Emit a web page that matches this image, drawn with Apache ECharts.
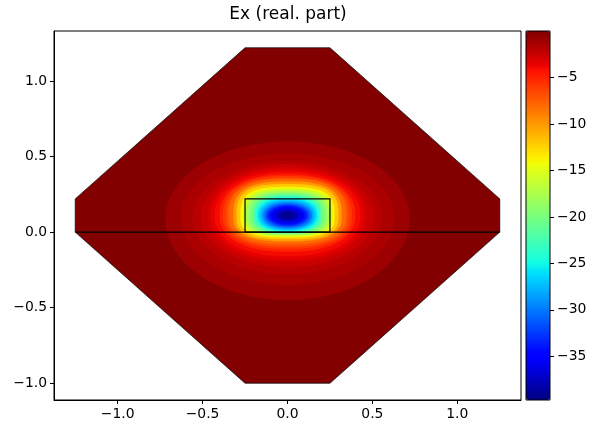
<!DOCTYPE html>
<html>
<head>
<meta charset="utf-8">
<script src="https://cdn.jsdelivr.net/npm/echarts@6/dist/echarts.min.js"></script>
<style>
html,body{margin:0;padding:0;background:#fff;}
#chart{width:599px;height:434px;}
</style>
</head>
<body>
<div id="chart"></div>
<script>
// ---- data ----
const titleText = 'Ex (real. part)';
const xTicks = [-1.0, -0.5, 0.0, 0.5, 1.0];
const yTicks = [-1.0, -0.5, 0.0, 0.5, 1.0];
const cbTicks = [-35, -30, -25, -20, -15, -10, -5];
const cbMin = -39.7, cbMax = 0;

// computational domain (octagon) and waveguide core
const octagonX = [-0.25, 0.25, 1.25, 1.25, 0.25, -0.25, -1.25, -1.25];
const octagonY = [1.22, 1.22, 0.22, 0.0, -1.0, -1.0, 0.0, 0.22];
const rectX = [-0.25, 0.25, 0.25, -0.25, -0.25];
const rectY = [0.0, 0.0, 0.22, 0.22, 0.0];
const baseLineX = [-1.25, 1.25];
const baseLineY = [0.0, 0.0];
const backgroundValue = -0.1;

// field level contours (filled, outer to inner): value, half width, top, bottom, centre y, squareness
const levelValues = [-1, -1.5, -2, -2.5, -3, -3.5, -4, -5, -6, -7, -8, -10, -12, -14, -16, -18, -20, -22, -24, -26, -28, -30, -32, -34, -36, -38, -39.3];
const halfWidths  = [0.72, 0.63, 0.56, 0.51, 0.47, 0.45, 0.43, 0.40, 0.38, 0.36, 0.345, 0.32, 0.30, 0.278, 0.262, 0.245, 0.225, 0.205, 0.19, 0.175, 0.16, 0.145, 0.13, 0.115, 0.097, 0.065, 0.032];
const levelTops   = [0.60, 0.52, 0.47, 0.45, 0.43, 0.415, 0.40, 0.383, 0.372, 0.36, 0.352, 0.335, 0.318, 0.30, 0.287, 0.273, 0.26, 0.248, 0.236, 0.223, 0.21, 0.197, 0.186, 0.176, 0.164, 0.147, 0.13];
const levelBottoms= [-0.45, -0.35, -0.28, -0.235, -0.20, -0.18, -0.16, -0.13, -0.11, -0.095, -0.08, -0.062, -0.048, -0.035, -0.028, -0.02, -0.013, -0.006, 0.0, 0.007, 0.015, 0.024, 0.034, 0.044, 0.055, 0.073, 0.09];
const levelCentres= [0.09, 0.10, 0.10, 0.10, 0.105, 0.11, 0.11, 0.11, 0.11, 0.11, 0.11, 0.11, 0.11, 0.11, 0.11, 0.11, 0.11, 0.11, 0.11, 0.11, 0.11, 0.11, 0.11, 0.11, 0.11, 0.11, 0.11];
const levelSquareness = [2.0, 2.0, 2.0, 2.0, 2.1, 2.15, 2.2, 2.3, 2.4, 2.5, 2.6, 2.8, 3.0, 3.0, 3.0, 2.9, 2.8, 2.6, 2.5, 2.4, 2.3, 2.2, 2.1, 2.0, 2.0, 2.0, 2.0];

// ---- jet colormap (matplotlib definition) ----
function interp(seg, t) {
  for (let i = 1; i < seg.length; i++) {
    if (t <= seg[i][0]) {
      const [t0, v0] = seg[i - 1], [t1, v1] = seg[i];
      return v0 + (v1 - v0) * (t - t0) / (t1 - t0);
    }
  }
  return seg[seg.length - 1][1];
}
const jr = [[0,0],[0.35,0],[0.66,1],[0.89,1],[1,0.5]];
const jg = [[0,0],[0.125,0],[0.375,1],[0.64,1],[0.91,0],[1,0]];
const jb = [[0,0.5],[0.11,1],[0.34,1],[0.65,0],[1,0]];
const jetColors = [];
for (let i = 0; i <= 100; i++) {
  const t = i / 100;
  const c = [interp(jr,t), interp(jg,t), interp(jb,t)].map(v => Math.round(v * 255));
  jetColors.push('rgb(' + c.join(',') + ')');
}
function fmt(v) { return (v < 0 ? '\u2212' : '') + Math.abs(v).toFixed(1); }
function fmtInt(v) { return (v < 0 ? '\u2212' : '') + Math.abs(v); }

const FONT = 'DejaVu Sans';
const chart = echarts.init(document.getElementById('chart'), null, {renderer: 'canvas'});
const contourData = levelValues.map((v, i) => [v, halfWidths[i], levelTops[i], levelBottoms[i], levelCentres[i], levelSquareness[i]]);
const outlines = [
  {xs: octagonX.concat([octagonX[0]]), ys: octagonY.concat([octagonY[0]]), w: 0.7},
  {xs: rectX, ys: rectY, w: 1.2},
  {xs: baseLineX, ys: baseLineY, w: 1.2}
];
const axisLineStyle = {show: true, onZero: false, lineStyle: {color: '#000', width: 1}};

const option = {
  animation: false,
  backgroundColor: '#fff',
  graphic: [{
    type: 'text', x: 288, y: 15, z: 100, silent: true,
    style: {text: titleText, fill: '#000', fontSize: 17, fontFamily: FONT, fontWeight: 'normal', align: 'center', verticalAlign: 'middle'}
  }],
  grid: [
    {left: 54, top: 31, width: 467, height: 369, show: true, borderColor: '#000', borderWidth: 1, backgroundColor: 'transparent', z: 10},
    {left: 526, top: 31, width: 24, height: 369, show: true, borderColor: '#000', borderWidth: 1, backgroundColor: 'transparent', z: 10}
  ],
  xAxis: [
    {type: 'value', gridIndex: 0, min: -1.375, max: 1.375, position: 'bottom', z: 10,
     axisLine: axisLineStyle, splitLine: {show: false},
     axisTick: {show: true, length: 4, customValues: xTicks, lineStyle: {color: '#000'}},
     axisLabel: {customValues: xTicks, formatter: fmt, color: '#000', fontSize: 13.9, fontFamily: FONT, margin: 7}},
    {type: 'value', gridIndex: 1, min: 0, max: 1, show: false, axisLine: {onZero: false}}
  ],
  yAxis: [
    {type: 'value', gridIndex: 0, min: -1.111, max: 1.331, position: 'left', z: 10,
     axisLine: axisLineStyle, splitLine: {show: false},
     axisTick: {show: true, length: 4, customValues: yTicks, lineStyle: {color: '#000'}},
     axisLabel: {customValues: yTicks, formatter: fmt, color: '#000', fontSize: 13.9, fontFamily: FONT, margin: 7}},
    {type: 'value', gridIndex: 1, min: cbMin, max: cbMax, position: 'right', z: 10,
     axisLine: {show: false, onZero: false}, splitLine: {show: false},
     axisTick: {show: true, length: 4, customValues: cbTicks, lineStyle: {color: '#000'}},
     axisLabel: {customValues: cbTicks, formatter: fmtInt, color: '#000', fontSize: 13.9, fontFamily: FONT, margin: 7}}
  ],
  visualMap: {
    type: 'continuous', min: cbMin, max: cbMax, dimension: 0, seriesIndex: [0, 1],
    calculable: false, realtime: false, hoverLink: false,
    left: 526, top: 31, itemWidth: 24, itemHeight: 369, padding: 0,
    text: null, showLabel: false,
    inRange: {color: jetColors}
  },
  series: [
    {
      type: 'custom', xAxisIndex: 0, yAxisIndex: 0, silent: true, z: 1,
      data: [[backgroundValue]],
      renderItem: function (params, api) {
        const pts = octagonX.map((x, i) => api.coord([x, octagonY[i]]));
        return {type: 'polygon', shape: {points: pts}, style: {fill: api.visual('color')}};
      }
    },
    {
      type: 'custom', xAxisIndex: 0, yAxisIndex: 0, silent: true, z: 2,
      data: contourData,
      renderItem: function (params, api) {
        const a = api.value(1), t = api.value(2), b = api.value(3), c = api.value(4), p = api.value(5);
        const pts = [];
        const N = 120;
        for (let k = 0; k < N; k++) {
          const th = 2 * Math.PI * k / N;
          const s = Math.sin(th), co = Math.cos(th);
          const sx = Math.sign(co) * Math.pow(Math.abs(co), 2 / p);
          const sy = Math.sign(s) * Math.pow(Math.abs(s), 2 / p);
          const y = c + (sy >= 0 ? (t - c) : (c - b)) * sy;
          pts.push(api.coord([a * sx, y]));
        }
        return {type: 'polygon', z2: params.dataIndex, shape: {points: pts}, style: {fill: api.visual('color')}};
      }
    },
    {
      type: 'custom', xAxisIndex: 0, yAxisIndex: 0, silent: true, z: 6,
      data: outlines.map((o, i) => [i]),
      renderItem: function (params, api) {
        const o = outlines[params.dataIndex];
        const pts = o.xs.map((x, i) => api.coord([x, o.ys[i]]));
        return {type: 'polyline', shape: {points: pts}, style: {stroke: '#000', lineWidth: o.w, fill: null}};
      }
    }
  ]
};
chart.setOption(option);
</script>
</body>
</html>
